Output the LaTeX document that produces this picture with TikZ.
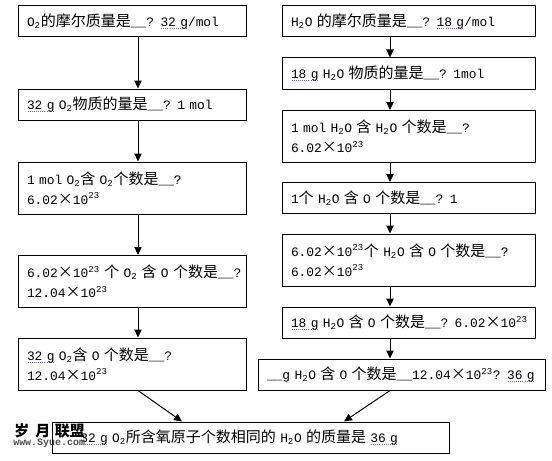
\documentclass[tikz,border=0pt]{standalone}
\usepackage{fontspec}
\setmainfont{Liberation Mono}[Scale=0.86]
\newfontfamily\zh{Noto Sans CJK SC}
\usetikzlibrary{arrows.meta}
\definecolor{chkcolor}{RGB}{150,90,170}
\newcommand\chk[1]{\leavevmode\setbox0\hbox{#1}\rlap{\color{chkcolor}\lower2pt\hbox to\wd0{\xleaders\hbox to 1.5pt{\hss\rule{0.75pt}{0.6pt}\hss}\hfil}}\box0\relax}
\newcommand\tms{\makebox[11.25pt]{\zh ×}}
\newcommand\sci[1]{#1\tms 10\textsuperscript{23}}
\newcommand\Od{O\textsubscript{2}}
\newcommand\Hw{H\textsubscript{2}O}

\begin{document}
\begin{tikzpicture}[x=0.75pt,y=-0.75pt,
  box/.style={draw,line width=0.75pt,align=left,inner xsep=6.75pt,inner ysep=0pt,
    font=\fontsize{11.25}{15}\selectfont},
  lbox/.style={box,text width=157.5pt},
  rbox/.style={box,text width=176.25pt},
  one/.style={minimum height=23.25pt},
  two/.style={minimum height=39pt},
  arr/.style={line width=0.75pt,-{Triangle[length=6pt,width=5.5pt]}}]
  \useasboundingbox (0,0) rectangle (552,460);

  \node[lbox,one] (L1) at (132,21.5) {\Od{\zh 的摩尔质量是}\_\_? \chk{32 g}/mol};
  \node[lbox,one] (L2) at (132,104.5) {\chk{32 g} \Od{\zh 物质的量是}\_\_? 1 mol};
  \node[lbox,two] (L3) at (132,188) {1 mol \Od{\zh 含} \Od{\zh 个数是}\_\_?\\\sci{6.02}};
  \node[lbox,two] (L4) at (132,281.5) {\mbox{\sci{6.02} {\zh 个} \Od{} {\zh 含} O {\zh 个数是}\_\_?}\\\sci{12.04}};
  \node[lbox,two] (L5) at (132,364) {\chk{32 g} \Od{\zh 含} O {\zh 个数是}\_\_?\\\sci{12.04}};

  \node[rbox,one] (R1) at (408.5,21.5) {\Hw{} {\zh 的摩尔质量是}\_\_? \chk{18 g}/mol};
  \node[rbox,one] (R2) at (408.5,73.5) {\chk{18 g} \Hw{} {\zh 物质的量是}\_\_? 1mol};
  \node[rbox,two] (R3) at (408.5,136.5) {1 mol \Hw{} {\zh 含} \Hw{} {\zh 个数是}\_\_?\\\sci{6.02}};
  \node[rbox,one] (R4) at (408.5,198) {1{\zh 个} \Hw{} {\zh 含} O {\zh 个数是}\_\_? 1};
  \node[rbox,two] (R5) at (408.5,260) {\mbox{\sci{6.02}{\zh 个} \Hw{} {\zh 含} O {\zh 个数是}\_\_?}\\\sci{6.02}};
  \node[rbox,one] (R6) at (408.5,322.5) {\mbox{\chk{18 g} \Hw{} {\zh 含} O {\zh 个数是}\_\_? \sci{6.02}}};
  \node[box,one,text width=201.75pt] (R7) at (401.5,374.5) {\mbox{\_\_g \Hw{} {\zh 含} O {\zh 个数是}\_\_\sci{12.04}? \chk{36 g}}};

  \node[box,one,text width=284.25pt] (B) at (250.5,437.5) {\hphantom{\zh 与} \chk{32 g} \Od{\zh 所含氧原子个数相同的} \Hw{} {\zh 的质量是} \chk{36 g}};

  \node[anchor=west,inner sep=0pt,font=\zh\bfseries\fontsize{11.25}{12}\selectfont] (wm) at (14,431) {岁\hspace{4.5pt}月\hspace{3.5pt}联盟};
  \node[anchor=west,inner sep=0pt,text=gray!60!black,font=\bfseries\fontsize{8.7}{9}\selectfont] (wmurl) at (13,443) {www.Syue.com};

  \coordinate (lx) at (138,0);
  \coordinate (rx) at (390,0);
  \coordinate (bl) at (182,0);
  \coordinate (br) at (344,0);
  \draw[arr] (L1.south -| lx) -- (L2.north -| lx);
  \draw[arr] (L2.south -| lx) -- (L3.north -| lx);
  \draw[arr] (L3.south -| lx) -- (L4.north -| lx);
  \draw[arr] (L4.south -| lx) -- (L5.north -| lx);
  \draw[arr] (L5.south -| lx) -- (B.north -| bl);
  \draw[arr] (R1.south -| rx) -- (R2.north -| rx);
  \draw[arr] (R2.south -| rx) -- (R3.north -| rx);
  \draw[arr] (R3.south -| rx) -- (R4.north -| rx);
  \draw[arr] (R4.south -| rx) -- (R5.north -| rx);
  \draw[arr] (R5.south -| rx) -- (R6.north -| rx);
  \draw[arr] (R6.south -| rx) -- (R7.north -| rx);
  \draw[arr] (R7.south -| rx) -- (B.north -| br);
\end{tikzpicture}
\end{document}
